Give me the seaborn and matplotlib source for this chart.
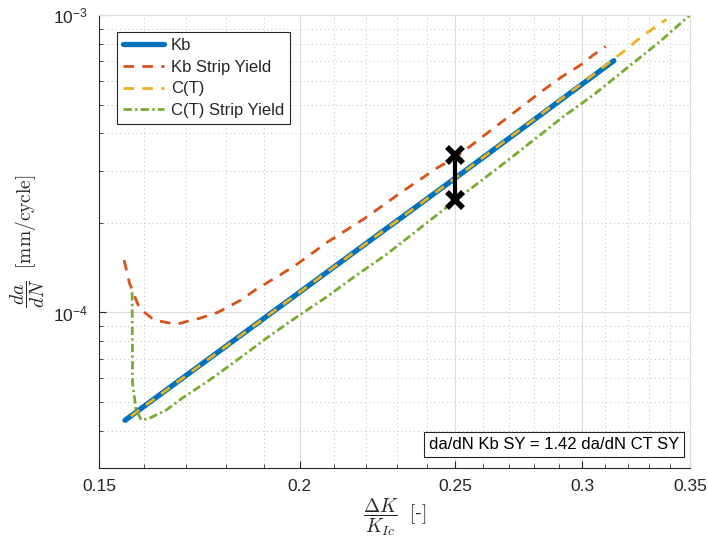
import numpy as np
import pandas as pd
import matplotlib
matplotlib.use("Agg")
import matplotlib.pyplot as plt
from matplotlib.ticker import FixedLocator, FixedFormatter, NullFormatter
import seaborn as sns

# Normalised stress-intensity range dK/KIc and crack growth rate da/dN [mm/cycle]
kb_dk = [0.1557, 0.2, 0.25, 0.3138]
kb_rate = [4.34e-5, 1.17e-4, 2.83e-4, 7.02e-4]

kb_sy_dk = [0.1555, 0.1567, 0.159, 0.1624, 0.1676, 0.1734, 0.1778, 0.1838, 0.1876,
            0.1982, 0.2083, 0.2196, 0.2309, 0.2434, 0.2505, 0.2827, 0.2914, 0.2993,
            0.3048, 0.3102]
kb_sy_rate = [1.50e-4, 1.255e-4, 1.03e-4, 0.942e-4, 0.913e-4, 0.957e-4, 1.0e-4, 1.10e-4, 1.189e-4,
              1.424e-4, 1.729e-4, 2.073e-4, 2.516e-4, 3.054e-4, 3.342e-4, 5.52e-4, 6.21e-4, 6.80e-4,
              7.35e-4, 7.84e-4]

ct_dk = [0.157, 0.2, 0.25, 0.3, 0.3182, 0.3266, 0.3384]
ct_rate = [4.48e-5, 1.17e-4, 2.83e-4, 5.9e-4, 7.54e-4, 8.47e-4, 9.67e-4]

ct_sy_dk = [0.1573, 0.1574, 0.1582, 0.1594, 0.1611, 0.1651, 0.169, 0.1757, 0.1834,
            0.1912, 0.1992, 0.2079, 0.217, 0.2266, 0.2408, 0.25, 0.2698, 0.2919,
            0.3048, 0.3197, 0.3353, 0.35]
ct_sy_rate = [1.17e-4, 5.78e-5, 4.69e-5, 4.35e-5, 4.4e-5, 4.69e-5, 5.15e-5, 5.92e-5, 7.0e-5,
              0.828e-4, 0.966e-4, 1.128e-4, 1.335e-4, 1.57e-4, 2.03e-4, 2.38e-4, 3.26e-4, 4.556e-4,
              5.39e-4, 6.63e-4, 8.15e-4, 1.0e-3]

# Comparison of the two strip-yield predictions at dK/KIc = 0.25
cmp_dk = [0.25, 0.25]
cmp_rate = [3.39e-4, 2.39e-4]
ratio_text = "da/dN Kb SY = 1.42 da/dN CT SY"

x_ticks = [0.15, 0.2, 0.25, 0.3, 0.35]
x_tick_labels = ["0.15", "0.2", "0.25", "0.3", "0.35"]
y_ticks = [1e-4, 1e-3]
y_tick_labels = [r"$\mathregular{10^{-4}}$", r"$\mathregular{10^{-3}}$"]

sns.set_style("ticks")
plt.rcParams["font.family"] = ["Liberation Sans", "DejaVu Sans"]
plt.rcParams["mathtext.fontset"] = "cm"

blue, orange, yellow, green = "#0072BD", "#D95319", "#EDB120", "#77AC30"
axis_col = "#262626"

fig = plt.figure(figsize=(7.08, 5.44), dpi=100)
ax = fig.add_axes([0.1398, 0.1397, 0.9746 - 0.1398, 0.9724 - 0.1397])

sns.lineplot(x=kb_dk, y=kb_rate, ax=ax, color=blue, lw=3.8, sort=False,
             estimator=None, label="Kb")
sns.lineplot(x=kb_sy_dk, y=kb_sy_rate, ax=ax, color=orange, lw=2.0, sort=False,
             estimator=None, label="Kb Strip Yield")
sns.lineplot(x=ct_dk, y=ct_rate, ax=ax, color=yellow, lw=2.0, sort=False,
             estimator=None, label="C(T)")
sns.lineplot(x=ct_sy_dk, y=ct_sy_rate, ax=ax, color=green, lw=2.0, sort=False,
             estimator=None, label="C(T) Strip Yield")
lines = ax.get_lines()
lines[1].set_dashes([3.8, 3.0])
lines[2].set_dashes([3.8, 3.0])
lines[3].set_dashes([3.0, 1.2, 0.8, 1.2])

ax.plot(cmp_dk, cmp_rate, color="black", lw=3.0, marker="x", ms=11, mew=4,
        label="_nolegend_", zorder=5)

ax.set_xscale("log")
ax.set_yscale("log")
ax.set_xlim(0.15, 0.35)
ax.set_ylim(3e-5, 1e-3)

ax.xaxis.set_major_locator(FixedLocator(x_ticks))
ax.xaxis.set_major_formatter(FixedFormatter(x_tick_labels))
ax.xaxis.set_minor_locator(FixedLocator([v / 100 for v in range(16, 35) if v % 5 != 0]))
ax.xaxis.set_minor_formatter(NullFormatter())
ax.yaxis.set_major_locator(FixedLocator(y_ticks))
ax.yaxis.set_major_formatter(FixedFormatter(y_tick_labels))
ax.yaxis.set_minor_locator(FixedLocator([k * 1e-5 for k in range(3, 10)] +
                                        [k * 1e-4 for k in range(2, 10)]))
ax.yaxis.set_minor_formatter(NullFormatter())

ax.grid(True, which="major", color="#dedede", lw=0.8, ls="-")
ax.grid(True, which="minor", color="#c8c8c8", lw=0.7, ls=(0, (1.2, 3.0)))
ax.set_axisbelow(True)

ax.tick_params(which="both", direction="in", colors=axis_col, labelsize=12.5,
               top=False, right=False)
ax.tick_params(which="major", length=5, width=0.8, pad=8)
ax.tick_params(which="minor", length=3, width=0.6)
for s in ["left", "bottom"]:
    ax.spines[s].set_color(axis_col)
    ax.spines[s].set_linewidth(0.8)
for s in ["top", "right"]:
    ax.spines[s].set_color("#dedede")
    ax.spines[s].set_linewidth(0.8)

ax.set_xlabel(r"$\dfrac{\Delta K}{K_{Ic}}\ \ [$-$]$", fontsize=14, color=axis_col,
              labelpad=2)
ax.set_ylabel(r"$\dfrac{da}{dN}\ \ [\mathrm{mm/cycle}]$", fontsize=14, color=axis_col,
              labelpad=4)

leg = ax.legend(loc="upper left", bbox_to_anchor=(0.03, 0.962), fontsize=12,
                frameon=True, fancybox=False, framealpha=1, edgecolor="#262626",
                borderpad=0.35, handlelength=2.5, handletextpad=0.4, labelspacing=0.4,
                borderaxespad=0)
leg.get_frame().set_linewidth(0.8)

ax.text(0.982, 0.036, ratio_text, transform=ax.transAxes, ha="right", va="bottom",
        fontsize=12, color="black",
        bbox=dict(boxstyle="square,pad=0.3", fc="white", ec="#262626", lw=0.8))

fig.savefig("out.png", dpi=100)
